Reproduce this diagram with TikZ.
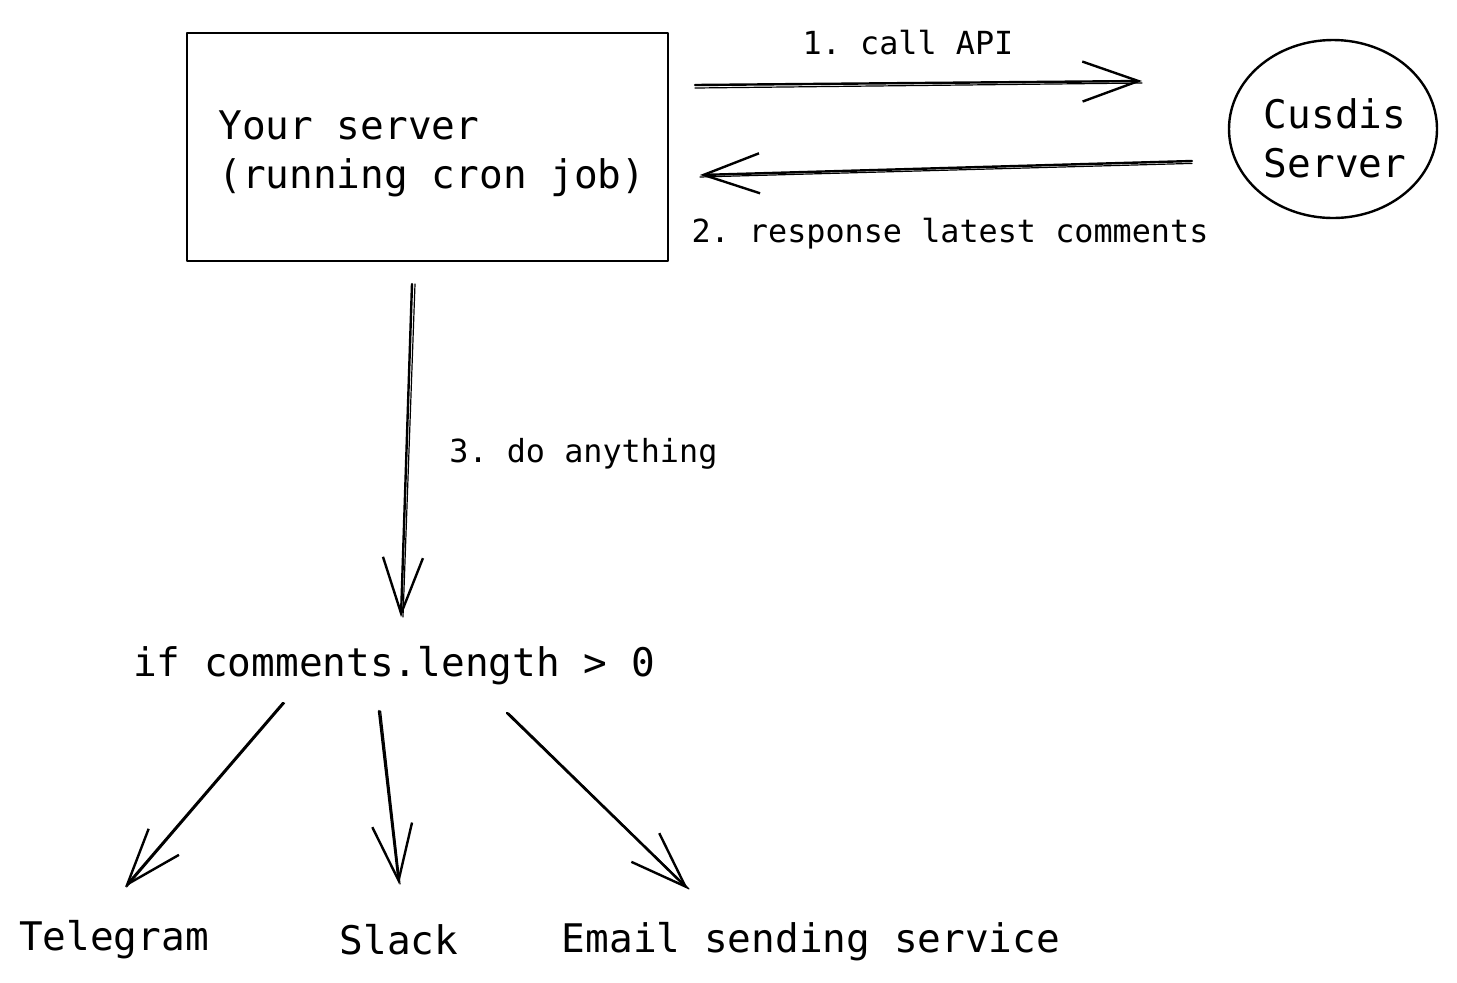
\documentclass[tikz,border=0pt]{standalone}
\usepackage{fontspec}
\setmonofont{DejaVu Sans Mono}
\usetikzlibrary{arrows.meta,shapes.geometric}
\tikzset{
  sk/.style={line width=1.2pt, line cap=round, line join=round},
  arr/.style={sk, -{Straight Barb[length=28pt, width=20pt, line width=1.2pt]}},
  thin2/.style={line width=0.6pt, line cap=round},
  big/.style={font=\ttfamily\fontsize{19.7}{24.5}\selectfont, inner sep=0pt},
  small/.style={font=\ttfamily\fontsize{15.9}{20}\selectfont, inner sep=0pt},
}
\begin{document}
\begin{tikzpicture}[x=0.5pt, y=-0.5pt]
\useasboundingbox (0,0) rectangle (1457,982);
% boxes
\node[sk, draw, rectangle, minimum width=240.5pt, minimum height=114pt, inner sep=0pt] (server) at (427.5,147) {};
\node[big, align=left, anchor=west] (servertext) at (218,154) {Your server\\(running cron job)};
\node[sk, draw, ellipse, minimum width=104pt, minimum height=89pt, inner sep=0pt] (cusdis) at (1333,129) {};
\node[big, align=center] (cusdistext) at (1335,138) {Cusdis\\Server};
% texts
\node[small] (l1) at (908,43) {1. call API};
\node[small] (l2) at (950,234) {2. response latest comments};
\node[small, anchor=west] (l3) at (449,454) {3. do anything};
\node[big] (cond) at (394,666) {if comments.length > 0};
\node[big] (tg) at (114,940) {Telegram};
\node[big] (slack) at (399,940) {Slack};
\node[big] (email) at (811,942) {Email sending service};
% connector end points
\coordinate (a1s) at (695,85);  \coordinate (a1e) at (1142,81);
\coordinate (a2s) at (1192,161); \coordinate (a2e) at (700,175);
\coordinate (a3s) at (412,284); \coordinate (a3e) at (401,617);
\coordinate (a4s) at (283,703); \coordinate (a4e) at (125,887);
\coordinate (a5s) at (379,711); \coordinate (a5e) at (399,884);
\coordinate (a6s) at (507,713); \coordinate (a6e) at (688,889);
% connectors
\draw[arr] (a1s) -- (a1e);
\draw[arr] (a2s) -- (a2e);
\draw[arr] (a3s) -- (a3e);
\draw[arr] (a4s) -- (a4e);
\draw[arr] (a5s) -- (a5e);
\draw[arr] (a6s) -- (a6e);
% sketch second strokes
\draw[thin2] ([yshift=-1.5pt]a1s) -- ([yshift=-1pt]a1e);
\draw[thin2] ([yshift=-1.2pt]a2s) -- ([yshift=-1pt]a2e);
\draw[thin2] ([xshift=1.5pt]a3s) -- ([xshift=1pt]a3e);
\draw[thin2] ([xshift=0.8pt]a4s) -- ([xshift=0.8pt]a4e);
\draw[thin2] ([xshift=0.8pt]a5s) -- ([xshift=0.5pt]a5e);
\draw[thin2] ([xshift=0.8pt]a6s) -- ([xshift=0.5pt]a6e);
\end{tikzpicture}
\end{document}
